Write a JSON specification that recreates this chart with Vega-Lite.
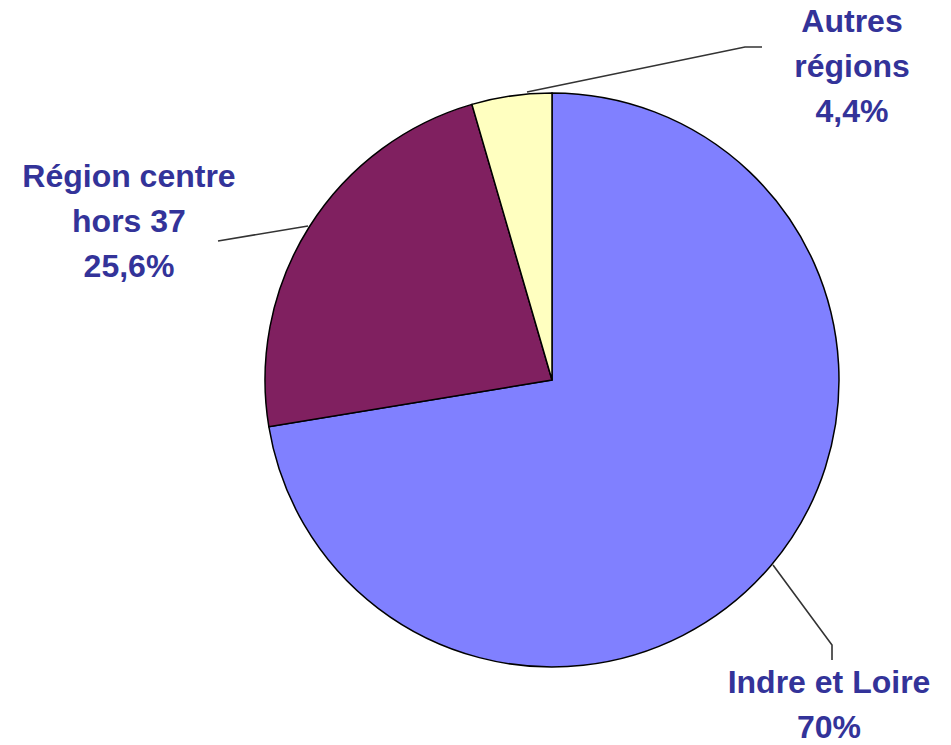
{
  "$schema": "https://vega.github.io/schema/vega-lite/v6.json",
  "width": 798,
  "height": 730,
  "autosize": {"type": "none"},
  "padding": {"left": 153, "top": 15, "right": 0, "bottom": 0},
  "background": "white",
  "config": {"view": {"stroke": null}},
  "datasets": {
    "slices": [
      {"region": "Indre et Loire", "share": 72.4, "ord": 1},
      {"region": "Région centre hors 37", "share": 23.1, "ord": 2},
      {"region": "Autres régions", "share": 4.5, "ord": 3}
    ],
    "leaders": [
      {"id": "Autres régions", "seq": 1, "u": -0.0871, "v": 1.0035},
      {"id": "Autres régions", "seq": 2, "u": 0.6725, "v": 1.1603},
      {"id": "Autres régions", "seq": 3, "u": 0.7317, "v": 1.1603},
      {"id": "Région centre hors 37", "seq": 1, "u": -1.1638, "v": 0.4843},
      {"id": "Région centre hors 37", "seq": 2, "u": -0.8502, "v": 0.5366},
      {"id": "Indre et Loire", "seq": 1, "u": 0.77, "v": -0.6446},
      {"id": "Indre et Loire", "seq": 2, "u": 0.9756, "v": -0.9233},
      {"id": "Indre et Loire", "seq": 3, "u": 0.9756, "v": -0.9756}
    ],
    "labels": [
      {"label": "Autres\nrégions\n4,4%", "u": 1.0453, "v": 1.2125},
      {"label": "Région centre\nhors 37\n25,6%", "u": -1.4739, "v": 0.6724},
      {"label": "Indre et Loire\n70%", "u": 0.9652, "v": -1.0906}
    ]
  },
  "layer": [
    {
      "data": {"name": "slices"},
      "mark": {"type": "arc", "outerRadius": 287, "stroke": "black", "strokeWidth": 1.5},
      "encoding": {
        "theta": {"field": "share", "type": "quantitative", "stack": true},
        "order": {"field": "ord", "type": "quantitative", "sort": "ascending"},
        "color": {
          "field": "region",
          "type": "nominal",
          "scale": {
            "domain": ["Indre et Loire", "Région centre hors 37", "Autres régions"],
            "range": ["#8080FF", "#802060", "#FFFFC0"]
          },
          "legend": null
        }
      }
    },
    {
      "data": {"name": "leaders"},
      "mark": {"type": "line", "color": "#333333", "strokeWidth": 1.6},
      "encoding": {
        "x": {"field": "u", "type": "quantitative", "scale": {"domain": [-1.3902, 1.3902], "nice": false, "zero": false}, "axis": null},
        "y": {"field": "v", "type": "quantitative", "scale": {"domain": [-1.2718, 1.2718], "nice": false, "zero": false}, "axis": null},
        "detail": {"field": "id"},
        "order": {"field": "seq", "type": "quantitative"}
      }
    },
    {
      "data": {"name": "labels"},
      "mark": {
        "type": "text",
        "align": "center",
        "baseline": "alphabetic",
        "font": "Liberation Sans",
        "fontWeight": "bold",
        "fontSize": 32,
        "fill": "#333399",
        "lineBreak": "\n",
        "lineHeight": 45
      },
      "encoding": {
        "x": {"field": "u", "type": "quantitative", "scale": {"domain": [-1.3902, 1.3902], "nice": false, "zero": false}, "axis": null},
        "y": {"field": "v", "type": "quantitative", "scale": {"domain": [-1.2718, 1.2718], "nice": false, "zero": false}, "axis": null},
        "text": {"field": "label"}
      }
    }
  ]
}
